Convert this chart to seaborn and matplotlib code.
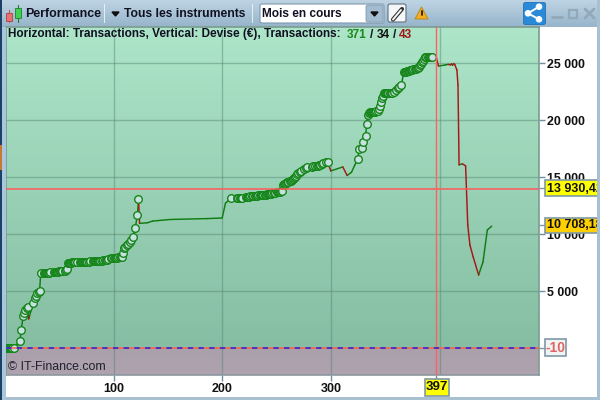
import numpy as np
import pandas as pd
import matplotlib
matplotlib.use("Agg")
import matplotlib.pyplot as plt
from matplotlib.patches import Rectangle, Polygon, Circle, FancyBboxPatch
import seaborn as sns

trades = [1,2,3,4,5,6,7,8,14,15,17,18,19,20,21,22,26,28,29,30,31,32,
          33,36,37,38,39,40,41,42,45,46,47,48,49,50,51,52,53,55,56,57,
          58,59,60,61,62,63,64,65,66,69,70,71,72,73,74,75,76,77,78,81,82,83,84,85,86,87,88,89,90,92,93,94,95,98,99,100,101,102,103,104,106,107,108,
          109,110,111,112,113,115,116,118,120,122,123,124,131,136,152,186,200,203,
          208,214,215,216,217,218,222,223,224,225,226,227,228,230,231,232,233,235,236,237,238,239,240,241,242,243,244,245,246,248,249,250,251,252,253,254,255,
          256,257,258,259,260,261,262,263,264,265,266,267,268,269,270,272,273,275,277,278,280,282,283,284,285,287,288,289,290,292,293,296,297,
          300,311,315,319,322,325,326,329,330,332,333,334,335,336,337,338,339,340,341,342,343,344,345,346,347,348,349,350,351,352,353,354,355,356,358,360,362,363,365,
          367,368,369,370,371,372,373,374,375,376,377,378,379,380,381,382,383,384,385,386,387,388,389,390,391,392,393,397,
          399,405,408,410,411,412,413,414,416,417,418,421,424,426,428,431,436,440,444,448]
equity = [20,21,22,23,24,25,26,27,630,1600,2820,3100,3350,3500,3620,2560,3960,4400,4600,4800,4950,5020,
          6570,6590,6600,6610,6620,6630,6640,6650,6680,6690,6700,6710,6720,6730,6740,6750,6760,6810,6860,6920,
          7500,7505,7510,7515,7520,7525,7530,7535,7540,7555,7560,7565,7570,7575,7580,7590,7600,7605,7610,7625,7630,7635,7640,7645,7650,7660,7670,7680,7700,7730,7750,7780,7830,7890,7900,7910,7920,7930,7940,7960,7985,8000,8020,
          8350,8760,8900,9050,9150,9340,9500,9780,10570,11650,13060,10950,11000,11150,11290,11370,11420,12710,
          13170,13180,13185,13190,13195,13200,13240,13250,13270,13290,13310,13330,13350,13370,13380,13390,13410,13430,13440,13450,13460,13470,13480,13490,13510,13520,13540,13560,13580,13620,13640,13660,13680,13700,13730,13760,13790,
          14310,14360,14420,14480,14540,14590,14650,14700,14760,14830,14900,15000,15100,15290,15350,15500,15550,15700,15800,15900,15620,15880,15930,15950,15970,15990,16010,16040,16080,16160,16240,16300,16330,
          15550,15900,15150,15430,16060,16620,17470,17560,18080,18610,19640,20450,20600,20710,20720,20730,20740,20750,20760,20770,20800,21000,21240,21600,21940,22150,22380,22385,22390,22395,22400,22405,22410,22420,22500,22650,22820,22900,23080,
          24220,24240,24260,24290,24320,24350,24380,24400,24430,24460,24480,24510,24540,24570,24680,24800,24950,25110,25230,25350,25550,25555,25558,25560,25565,25568,25570,25550,
          24750,24840,24900,24850,24950,24820,24960,24900,24400,23080,16080,16170,16000,10800,9050,8000,6420,7560,10370,10710]
x_ticks = [100, 200, 300, 400]
x_tick_labels = ["100", "200", "300"]
y_ticks = [5000, 10000, 15000, 20000, 25000]
y_tick_labels = ["5 000", "10 000", "15 000", "20 000", "25 000"]
cursor_trade = 397
cursor_level = 13930.42
zero_level = -10

sns.set_theme(style="white")
plt.rcParams['font.family'] = ['Liberation Sans', 'DejaVu Sans']

W, H = 600, 400
fig = plt.figure(figsize=(6, 4), dpi=100, facecolor="white")

def blend(a, b, n):
    t = np.linspace(0, 1, n)[:, None]
    return (np.array(a) * (1 - t) + np.array(b) * t)[:, None, :] / 255

# chrome background
bg = fig.add_axes([0, 0, 1, 1], zorder=0)
bg.set_xlim(0, W); bg.set_ylim(H, 0); bg.axis("off")
bg.imshow(blend((190, 212, 228), (150, 180, 202), 40), extent=(0, W, 27, 0), aspect="auto", zorder=1)
bg.set_xlim(0, W); bg.set_ylim(H, 0)

# main chart
L, R, T, B = 6, 538.7, 27, 375
ax = fig.add_axes([L / W, 1 - B / H, (R - L) / W, (B - T) / H], zorder=1)
px_per_trade, x100 = 1.0867, 113.5
xlim = (100 + (L - x100) / px_per_trade, 100 + (R - x100) / px_per_trade)
px_per_unit, y0px = 0.0114, 348.2
ylim = ((y0px - B) / px_per_unit, (y0px - T) / px_per_unit)

ax.imshow(blend((172, 229, 200), (134, 190, 163), 64), extent=(xlim[0], xlim[1], zero_level, ylim[1]),
          aspect="auto", zorder=0)
ax.imshow(blend((170, 160, 172), (174, 162, 174), 8), extent=(xlim[0], xlim[1], ylim[0], zero_level),
          aspect="auto", zorder=0)

for v in x_ticks:
    ax.axvline(v, color=(0.30, 0.50, 0.42), alpha=0.42, lw=1, zorder=1)
for v in y_ticks:
    ax.axhline(v, color=(0.30, 0.50, 0.42), alpha=0.42, lw=1, zorder=1)

df = pd.DataFrame({"trade": trades, "equity": equity})
rows = []
for i in range(len(df) - 1):
    a, b = df.iloc[i], df.iloc[i + 1]
    kind = "up" if b.equity >= a.equity else "down"
    rows.append((a.trade, a.equity, i, kind))
    rows.append((b.trade, b.equity, i, kind))
seg = pd.DataFrame(rows, columns=["trade", "equity", "seg", "kind"])
sns.lineplot(data=seg, x="trade", y="equity", units="seg", estimator=None, hue="kind", sort=False,
             palette={"up": "#0f7d12", "down": "#a81616"}, lw=1.05, legend=False, ax=ax, zorder=3)

highs = df[df.equity > df.equity.cummax().shift(1, fill_value=-1e9)]
sns.scatterplot(data=highs, x="trade", y="equity", s=30, color="#c9e0e2", edgecolor="#15861a",
                linewidth=1.0, legend=False, ax=ax, zorder=4)

ax.axhline(cursor_level, color="#ff5a5a", lw=1.1, zorder=5)
ax.axvline(cursor_trade, color="#ff6060", lw=1.0, zorder=5)
ax.axhline(zero_level, color="#ff6040", lw=1.1, zorder=5)
ax.axhline(zero_level, color="#2020e0", lw=1.1, ls=(0, (3.5, 3.5)), zorder=6)

ax.set_xlim(*xlim); ax.set_ylim(*ylim)
ax.set_xlabel(""); ax.set_ylabel("")
ax.yaxis.tick_right()
ax.set_xticks(x_ticks[:3] + [cursor_trade]); ax.set_xticklabels(x_tick_labels + [""])
ax.set_yticks(y_ticks); ax.set_yticklabels(y_tick_labels)
ax.tick_params(axis="x", length=4, width=1, color="#6f8f9f", labelsize=9, pad=1.5, bottom=True)
ax.tick_params(axis="y", length=4, width=1, color="#6f8f9f", labelsize=8.9, pad=2, right=True)
for lab in ax.get_xticklabels() + ax.get_yticklabels():
    lab.set_fontweight("bold"); lab.set_color("#111111")
for s in ax.spines.values():
    s.set_color("#7b9c90"); s.set_linewidth(1.2)
ax.spines["bottom"].set_color("#8c97a0")

# overlay
ov = fig.add_axes([0, 0, 1, 1], zorder=2)
ov.set_xlim(0, W); ov.set_ylim(H, 0); ov.axis("off"); ov.patch.set_alpha(0)

def txt(x, y, s, size=8.8, weight="bold", color="#111122", **k):
    return ov.text(x, y, s, fontsize=size, fontweight=weight, color=color, va="center", ha=k.pop("ha", "left"), **k)

def rect(x, y, w, h, fc, ec="none", lw=0, z=2):
    ov.add_patch(Rectangle((x, y), w, h, facecolor=fc, edgecolor=ec, linewidth=lw, zorder=z))

# toolbar
ov.plot([8.7, 8.7], [10, 22], color="#c05050", lw=0.8, zorder=1)
ov.plot([17.5, 17.5], [5, 22], color="#208030", lw=0.8, zorder=1)
rect(6, 12.5, 6, 8, "#e87070", "#b04040", 0.6)
rect(14.5, 8, 6, 10, "#40d050", "#208030", 0.6)
txt(25, 14, "Performance", size=8.9)
rect(103.5, 4, 1, 19, "#e6eef4")
ov.add_patch(Polygon([(112, 12), (119, 12), (115.5, 16)], color="#101010"))
txt(124, 14, "Tous les instruments", size=8.7)
rect(252, 4, 1, 19, "#e6eef4")
ov.add_patch(FancyBboxPatch((260, 4), 124, 19, boxstyle="round,pad=0,rounding_size=2", fc="white", ec="#7f9ab0", lw=0.8))
txt(262, 14, "Mois en cours", size=8.6)
ov.add_patch(FancyBboxPatch((366, 5), 17, 17, boxstyle="round,pad=0,rounding_size=2", fc="#a4bccf", ec="#7f9ab0", lw=0.6))
ov.add_patch(Polygon([(371, 12), (378, 12), (374.5, 16)], color="#101010"))
ov.add_patch(FancyBboxPatch((388, 4), 18, 18, boxstyle="round,pad=0,rounding_size=2", fc="#f4f6f8", ec="#607080", lw=0.8))
ov.plot([393, 402], [19.5, 9], color="#303030", lw=3.0, zorder=3)
ov.plot([393, 401], [19.5, 10], color="#f4f6f8", lw=1.4, zorder=4)
ov.add_patch(Polygon([(415, 19), (428, 19), (421.5, 7)], fc="#f0b020", ec="#c08010", lw=0.6))
ov.plot([421.5, 421.5], [11, 15], color="#201000", lw=1.2)
ov.add_patch(FancyBboxPatch((523.5, 2.5), 22, 22, boxstyle="round,pad=0,rounding_size=2", fc="#2a8ad8", ec="#2070b8", lw=0.6))
ov.plot([539, 528, 539], [6.7, 13.3, 19.3], color="white", lw=1.4, zorder=3)
for cx, cy in [(539, 6.7), (528, 13.3), (539, 19.3)]:
    ov.add_patch(Circle((cx, cy), 2.6, color="white", zorder=3))
ov.plot([552, 562], [17, 17], color="#93a8b8", lw=2)
rect(569, 9.5, 8, 8, "none", "#93a8b8", 1.6)
ov.plot([585, 594], [9, 18], color="#93a8b8", lw=2)
ov.plot([585, 594], [18, 9], color="#93a8b8", lw=2)

# header in plot
txt(8, 34.5, "Horizontal: Transactions, Vertical: Devise (€), Transactions:", size=8.5)
txt(346.7, 34.5, "371", size=8.6, color="#1a8a1a")
txt(369.5, 34.5, "/", size=8.6)
txt(376.5, 34.5, "34", size=8.6, color="#111111")
txt(393, 34.5, "/", size=8.6)
txt(399, 34.5, "43", size=8.6, color="#a01515")

txt(8, 367, "© IT-Finance.com", size=8.9, weight="normal", color="#202030")

# tags
ov.plot([539, 545], [188, 188], color="#7f98a8", lw=1)
ov.plot([539, 545], [225, 225], color="#7f98a8", lw=1)
ov.plot([539, 545], [348, 348], color="#7f98a8", lw=1)
rect(545, 180, 60, 16, "#ffff00", "#7f98a8", 1.2, z=3)
ov.text(547, 188.5, "13 930,42", fontsize=9, fontweight="bold", color="#111111", va="center", zorder=4)
rect(545, 217.5, 60, 15.5, "#ffd000", "#7f98a8", 1.2, z=3)
ov.text(547, 225.5, "10 708,18", fontsize=9, fontweight="bold", color="#111111", va="center", zorder=4)
rect(544.5, 338.5, 21.5, 17, "#f2f4f4", "#7f98a8", 1.2, z=3)
ov.text(555.5, 347.5, "-10", fontsize=10, fontweight="bold", color="#e06464", va="center", ha="center", zorder=4)
rect(424.5, 378.5, 24.5, 17, "#ffff00", "#7f98a8", 1.2, z=3)
ov.text(436.8, 387.5, "397", fontsize=9.5, fontweight="bold", color="#111111", va="center", ha="center", zorder=4)

# window frame
rect(597, 0, 3, 400, "#a8c0d0", z=6)
rect(0, 396.5, 600, 3.5, "#a8c0d0", z=6)
rect(0, 27, 5.5, 373, "#a8c6dc", z=6)
rect(0, 0, 2, 400, "#1e3f66", z=7)
rect(0, 145, 2, 25, "#c87830", z=8)

fig.savefig("out.png", dpi=100)
